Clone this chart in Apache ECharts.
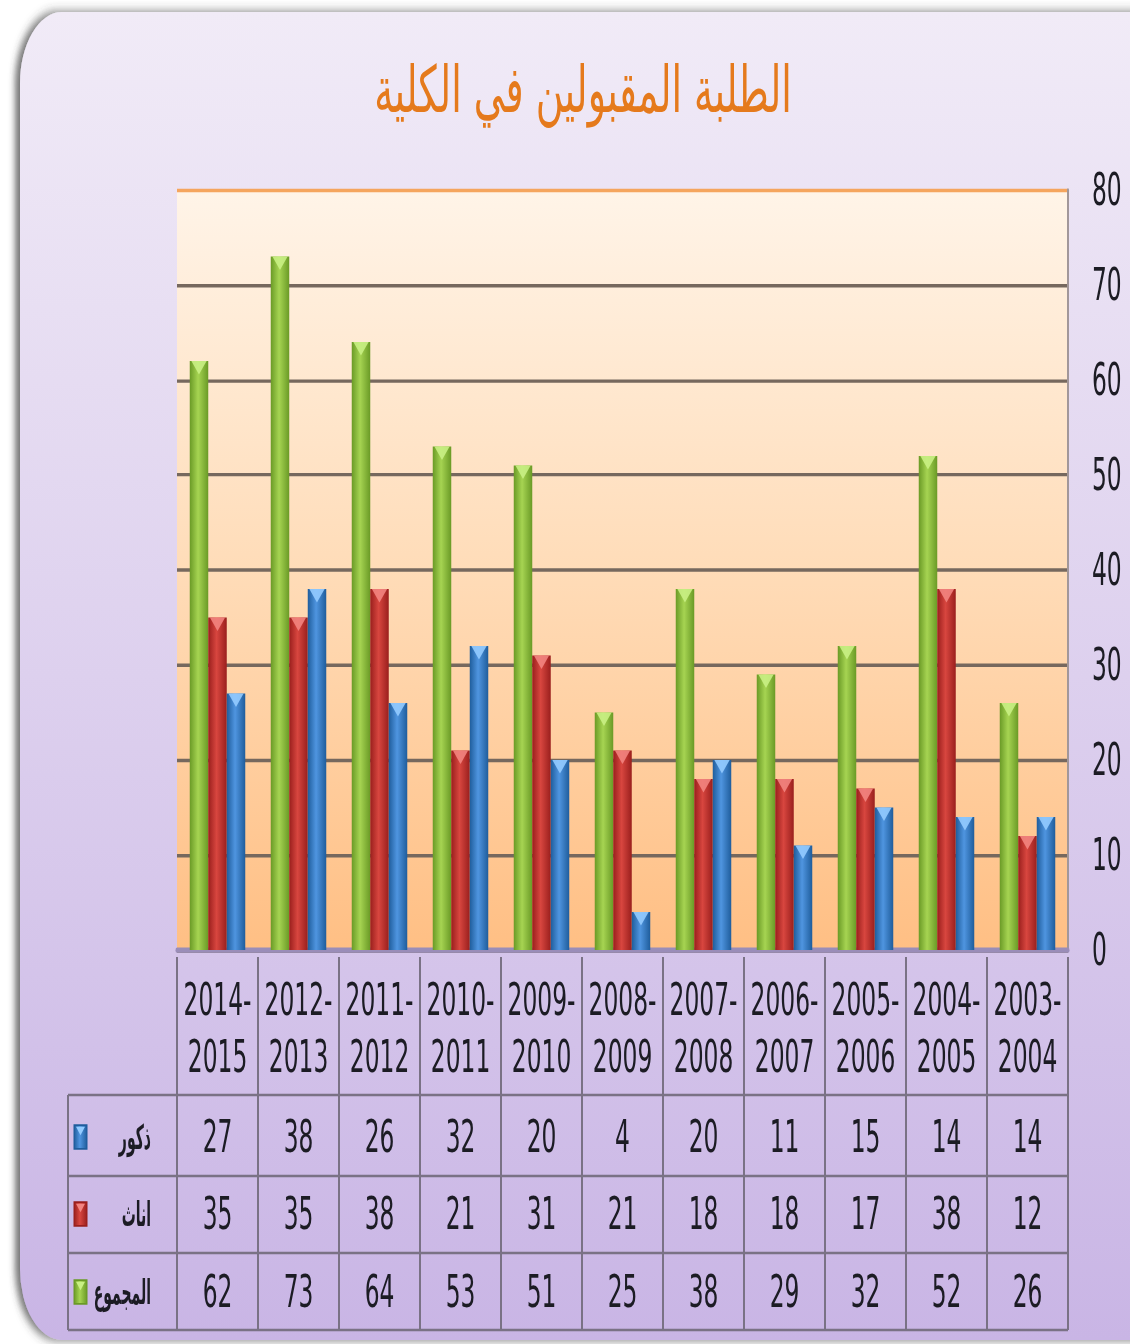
<!DOCTYPE html>
<html>
<head>
<meta charset="utf-8">
<script src="https://cdn.jsdelivr.net/npm/echarts@6/dist/echarts.min.js"></script>
<style>
html,body{margin:0;padding:0;background:#fff;}
#wrap{width:1130px;height:1344px;overflow:hidden;position:relative;background:#fff;}
#chart{width:1130px;height:790px;transform-origin:0 0;transform:scaleY(1.70127);}
</style>
</head>
<body>
<div id="wrap"><div id="chart"></div></div>
<script>
// ---- data ----
const titleText = 'الطلبة المقبولين في الكلية';
const categories = ['2014-2015','2012-2013','2011-2012','2010-2011','2009-2010','2008-2009','2007-2008','2006-2007','2005-2006','2004-2005','2003-2004'];
const males   = [27, 38, 26, 32, 20, 4, 20, 11, 15, 14, 14];
const females = [35, 35, 38, 21, 31, 21, 18, 18, 17, 38, 12];
const totals  = [62, 73, 64, 53, 51, 25, 38, 29, 32, 52, 26];
const rowNames = ['ذكور', 'اناث', 'المجموع'];
const yMin = 0, yMax = 80, yStep = 10;

// ---- layout (design space; page is stretched vertically by S) ----
const S = 1344 / 790;
const Y = v => v / S;
const NUMFONT = '"Liberation Sans Narrow","Arial Narrow","DejaVu Sans Condensed",sans-serif';
const AFONT = '"DejaVu Sans","Noto Sans",sans-serif';
const gLeft = 177, gRight = 1068, colW = (gRight - gLeft) / categories.length;
const gTop = Y(190), gBottom = Y(950);
const rowTops = [Y(1095), Y(1176), Y(1253), Y(1330)];
const rowCenters = [Y(1137), Y(1214), Y(1292)];

const colors = {
  green: ['#6a9a26', '#a6d452', '#6a9a26', '#c9ef84'],
  red:   ['#9a1f1d', '#d8463f', '#9a1f1d', '#f28480'],
  blue:  ['#1f5d9c', '#4f95e0', '#1f5d9c', '#93cbff']
};
function hGrad(c) {
  return new echarts.graphic.LinearGradient(0, 0, 1, 0, [
    {offset: 0, color: c[0]}, {offset: 0.45, color: c[1]}, {offset: 1, color: c[2]}
  ]);
}

const chart = echarts.init(document.getElementById('chart'), null, {renderer: 'svg'});

const seriesDefs = [
  {name: rowNames[2], data: totals, c: colors.green},
  {name: rowNames[1], data: females, c: colors.red},
  {name: rowNames[0], data: males, c: colors.blue}
];

const series = [];
seriesDefs.forEach(s => {
  series.push({
    name: s.name, type: 'bar', data: s.data, barWidth: 18.5, barGap: '0%',
    itemStyle: {color: hGrad(s.c)}, z: 2, silent: true
  });
});
seriesDefs.forEach(s => {
  series.push({
    name: s.name, type: 'pictorialBar', data: s.data, barWidth: 18.5, barGap: '0%',
    symbol: 'path://M0,0L10,0L5,7Z', symbolSize: [15, 8], symbolPosition: 'end',
    itemStyle: {color: s.c[3], opacity: 0.9}, z: 3, silent: true
  });
});

// table row data for the extra axes
const tableRows = [males, females, totals];
const xAxes = [{
  type: 'category', data: categories, position: 'bottom',
  axisLine: {show: true, lineStyle: {color: '#9a8db8', width: 3}},
  axisTick: {show: false},
  axisLabel: {
    interval: 0, margin: Y(1000) - 16.75 - gBottom, fontFamily: NUMFONT, fontSize: 26,
    lineHeight: Y(1057) - Y(1000), color: '#1c1c24',
    formatter: v => v.replace('-', '-\n')
  }
}];
tableRows.forEach((row, k) => {
  xAxes.push({
    type: 'category', data: categories, position: 'bottom',
    offset: rowCenters[k] - 15 - gBottom,
    axisLine: {show: false}, axisTick: {show: false},
    axisLabel: {interval: 0, margin: 0, fontFamily: NUMFONT, fontSize: 26, lineHeight: 30, color: '#1c1c24',
      formatter: (v, i) => String(row[i])}
  });
});

// table lines and row labels
const graphics = [];
graphics.push({
  type: 'rect', z: -100,
  shape: {x: 20, y: Y(12), width: 1200, height: Y(1340) - Y(12), r: 42},
  style: {
    fill: new echarts.graphic.LinearGradient(0, 0, 0, 1, [
      {offset: 0, color: '#f1ebf7'}, {offset: 0.5, color: '#ddd0ee'}, {offset: 1, color: '#c9b5e5'}
    ]),
    shadowColor: 'rgba(60,60,60,0.7)', shadowBlur: 6, shadowOffsetX: -5, shadowOffsetY: 0
  }
});
const lineStyle = {stroke: '#7a7285', lineWidth: 2};
for (let i = 0; i <= categories.length; i++) {
  const x = gLeft + colW * i;
  graphics.push({type: 'line', z: 5, shape: {x1: x, y1: Y(957), x2: x, y2: rowTops[3]}, style: lineStyle});
}
graphics.push({type: 'line', z: 5, shape: {x1: 68, y1: rowTops[0], x2: 68, y2: rowTops[3]}, style: lineStyle});
rowTops.forEach(y => {
  graphics.push({type: 'line', z: 5, shape: {x1: 68, y1: y, x2: gRight, y2: y}, style: {stroke: '#7a7285', lineWidth: 1.5}});
});
const markerColors = [colors.blue, colors.red, colors.green];
rowNames.forEach((n, k) => {
  graphics.push({
    type: 'text', z: 6, x: 151, y: rowCenters[k], scaleX: 0.7,
    style: {text: n, fontFamily: AFONT, fontSize: 20, fontWeight: 'bold', fill: '#1c1c24', align: 'right', verticalAlign: 'middle'}
  });
  graphics.push({
    type: 'rect', z: 6, shape: {x: 74, y: rowCenters[k] - 7, width: 13, height: 14},
    style: {fill: hGrad(markerColors[k]), stroke: markerColors[k][0], lineWidth: 1}
  });
  graphics.push({
    type: 'polygon', z: 7, shape: {points: [[76, rowCenters[k] - 6], [85, rowCenters[k] - 6], [80.5, rowCenters[k] - 1]]},
    style: {fill: markerColors[k][3]}
  });
});

const splitColors = [];
for (let v = yMin; v <= yMax; v += yStep) splitColors.push(v === yMax ? '#f5a55e' : '#76685e');

chart.setOption({
  animation: false,
  title: {
    text: titleText, left: 578, top: Y(82), textAlign: 'center', textVerticalAlign: 'middle',
    textStyle: {
      fontFamily: AFONT, fontSize: 38, fontWeight: 'normal', color: '#e57a1c'
    }
  },
  grid: {
    left: gLeft, right: 1130 - gRight, top: gTop, bottom: 790 - gBottom,
    show: true, borderWidth: 0,
    backgroundColor: new echarts.graphic.LinearGradient(0, 0, 0, 1, [
      {offset: 0, color: '#fff4e8'}, {offset: 0.5, color: '#ffdcb8'}, {offset: 1, color: '#ffbf84'}
    ])
  },
  xAxis: xAxes,
  yAxis: {
    type: 'value', position: 'right', min: yMin, max: yMax, interval: yStep,
    axisLine: {show: true, lineStyle: {color: '#a2979a', width: 2}},
    axisTick: {show: false},
    axisLabel: {margin: 24, fontFamily: NUMFONT, fontSize: 26, color: '#1c1c24'},
    splitLine: {show: true, lineStyle: {color: splitColors, width: 2}}
  },
  graphic: graphics,
  series: series
});
</script>
</body>
</html>
